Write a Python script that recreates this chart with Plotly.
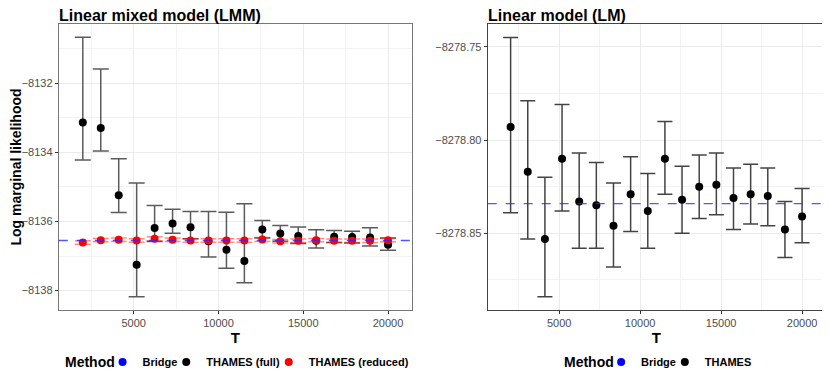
import plotly.graph_objects as go

# T values (shared by both panels)
T = [2000, 3059, 4118, 5176, 6235, 7294, 8353, 9412, 10471,
     11529, 12588, 13647, 14706, 15765, 16824, 17882, 18941, 20000]

# LMM panel
lmm_bridge = -8136.55
lmm_full = [-8133.14, -8133.30, -8135.24, -8137.25, -8136.19, -8136.06, -8136.17, -8136.57, -8136.82,
            -8137.14, -8136.23, -8136.35, -8136.42, -8136.56, -8136.44, -8136.45, -8136.46, -8136.67]
lmm_full_hi = [-8130.67, -8131.59, -8134.19, -8134.89, -8135.54, -8135.65, -8135.71, -8135.71, -8135.73,
               -8135.49, -8135.97, -8136.12, -8136.16, -8136.24, -8136.26, -8136.28, -8136.18, -8136.48]
lmm_full_lo = [-8134.22, -8133.96, -8135.74, -8138.18, -8136.58, -8136.34, -8136.50, -8137.03, -8137.35,
               -8137.77, -8136.48, -8136.57, -8136.64, -8136.77, -8136.61, -8136.62, -8136.71, -8136.83]
lmm_red = [-8136.61, -8136.54, -8136.53, -8136.55, -8136.50, -8136.53, -8136.55, -8136.55, -8136.55,
           -8136.55, -8136.52, -8136.57, -8136.56, -8136.54, -8136.56, -8136.56, -8136.56, -8136.54]
lmm_red_hi = [-8136.56, -8136.49, -8136.48, -8136.50, -8136.44, -8136.48, -8136.50, -8136.50, -8136.50,
              -8136.50, -8136.46, -8136.52, -8136.51, -8136.49, -8136.51, -8136.51, -8136.51, -8136.49]
lmm_red_lo = [-8136.66, -8136.59, -8136.58, -8136.60, -8136.56, -8136.58, -8136.60, -8136.60, -8136.60,
              -8136.60, -8136.58, -8136.62, -8136.61, -8136.59, -8136.61, -8136.61, -8136.61, -8136.59]

# LM panel
lm_bridge = -8278.8341
lm_thames = [-8278.793, -8278.817, -8278.853, -8278.810, -8278.833, -8278.835, -8278.846, -8278.829, -8278.838,
             -8278.810, -8278.832, -8278.825, -8278.824, -8278.831, -8278.829, -8278.830, -8278.848, -8278.841]
lm_hi = [-8278.745, -8278.779, -8278.820, -8278.781, -8278.807, -8278.812, -8278.823, -8278.809, -8278.818,
         -8278.790, -8278.814, -8278.808, -8278.807, -8278.815, -8278.813, -8278.815, -8278.833, -8278.826]
lm_lo = [-8278.839, -8278.853, -8278.884, -8278.838, -8278.858, -8278.858, -8278.868, -8278.849, -8278.858,
         -8278.829, -8278.850, -8278.842, -8278.840, -8278.848, -8278.845, -8278.846, -8278.863, -8278.855]

FONT = 'Liberation Sans, Arial, sans-serif'
# page has an 8px body margin, so the figure is shifted by 8
OFF = 8
W, H = 830 - OFF, 379 - OFF


def px(x):
    return (x - OFF) / W


def py(y):
    return 1 - (y - OFF) / H


def err(y, hi, lo, color, width):
    return dict(type='data', symmetric=False,
                array=[h - v for h, v in zip(hi, y)],
                arrayminus=[v - l for v, l in zip(y, lo)],
                color=color, thickness=1.5, width=width)


fig = go.Figure()

fig.add_trace(go.Scatter(
    x=T, y=lmm_full, mode='markers', showlegend=False,
    marker=dict(color='black', size=8),
    error_y=err(lmm_full, lmm_full_hi, lmm_full_lo, 'rgba(50,50,50,0.8)', 8),
    xaxis='x', yaxis='y'))
fig.add_trace(go.Scatter(
    x=T, y=lmm_red, mode='markers', showlegend=False,
    marker=dict(color='red', size=8),
    error_y=err(lmm_red, lmm_red_hi, lmm_red_lo, 'rgba(255,0,0,0.45)', 8),
    xaxis='x', yaxis='y'))
fig.add_trace(go.Scatter(
    x=T, y=lm_thames, mode='markers', showlegend=False,
    marker=dict(color='black', size=8),
    error_y=err(lm_thames, lm_hi, lm_lo, 'rgba(20,20,20,0.8)', 7.5),
    xaxis='x2', yaxis='y2'))

# Bridge reference lines
for xr, yr, val in [('x domain', 'y', lmm_bridge), ('x2 domain', 'y2', lm_bridge)]:
    fig.add_shape(type='line', xref=xr, yref=yr, x0=0, x1=1, y0=val, y1=val, layer='above',
                  line=dict(color='rgba(40,40,255,0.8)', dash='dash', width=1.3))

# legend entries: one legend per entry so each can sit where ggplot put it
legend_items = [('Bridge', 'blue', 'legend', 123), ('THAMES (full)', 'black', 'legend2', 187),
                ('THAMES (reduced)', 'red', 'legend3', 290),
                ('Bridge', 'blue', 'legend4', 624), ('THAMES', 'black', 'legend5', 688)]
legends = {}
for name, col, lg, cx in legend_items:
    fig.add_trace(go.Scatter(x=[None], y=[None], mode='markers', name=name,
                             marker=dict(color=col, size=8),
                             legend=lg, xaxis='x', yaxis='y'))
    legends[lg] = dict(orientation='h', x=px(cx - 24), xanchor='left', y=py(362), yanchor='middle',
                       font=dict(family=FONT, size=11, color='black', weight='bold'),
                       itemwidth=30, bgcolor='rgba(0,0,0,0)')

tickfont = dict(family=FONT, size=11, color='#4d4d4d')
axis_common = dict(showgrid=True, gridcolor='#ebebeb', gridwidth=1, zeroline=False,
                   ticks='outside', ticklen=3, tickcolor='#333', tickfont=tickfont,
                   mirror=True, showline=True, linewidth=1)

fig.update_layout(
    width=W, height=H, margin=dict(l=0, r=0, t=0, b=0),
    plot_bgcolor='white', paper_bgcolor='white',
    font=dict(family=FONT),
    xaxis=dict(domain=[px(55), px(410)], range=[583, 21417], dtick=5000, tick0=0,
               tickformat='d', linecolor='#777', anchor='y',
               minor=dict(dtick=2500, tick0=0, showgrid=True, gridcolor='#f3f3f3', ticks=''),
               title=dict(text='<b>T</b>', font=dict(size=15, color='black'), standoff=4),
               **axis_common),
    yaxis=dict(domain=[py(310), py(24)], range=[-8138.56, -8130.29], dtick=2,
               tickformat='d', linecolor='#777', anchor='x',
               minor=dict(dtick=1, showgrid=True, gridcolor='#f3f3f3', ticks=''),
               title=dict(text='<b>Log marginal likelihood</b>', font=dict(size=14, color='black'),
                          standoff=4),
               **axis_common),
    xaxis2=dict(domain=[px(486), px(825)], range=[583, 21417], dtick=5000, tick0=0,
                tickformat='d', linecolor='#444', anchor='y2',
                minor=dict(dtick=2500, tick0=0, showgrid=True, gridcolor='#f3f3f3', ticks=''),
                title=dict(text='<b>T</b>', font=dict(size=15, color='black'), standoff=4),
                **axis_common),
    yaxis2=dict(domain=[py(310), py(24)], range=[-8278.8911, -8278.7378], dtick=0.05,
                tick0=-8278.75, tickformat='.2f', linecolor='#444', anchor='x2',
                minor=dict(dtick=0.025, tick0=-8278.75, showgrid=True, gridcolor='#f3f3f3', ticks=''),
                **axis_common),
    annotations=[
        dict(text='<b>Linear mixed model (LMM)</b>', xref='paper', yref='paper',
             x=px(54), y=1, xanchor='left', yanchor='top', showarrow=False, borderpad=0,
             yshift=2, font=dict(size=16, color='black')),
        dict(text='<b>Linear model (LM)</b>', xref='paper', yref='paper',
             x=px(485), y=1, xanchor='left', yanchor='top', showarrow=False, borderpad=0,
             yshift=2, font=dict(size=16, color='black')),
        dict(text='<b>Method</b>', xref='paper', yref='paper',
             x=px(59), y=py(362), xanchor='left', yanchor='middle', showarrow=False,
             font=dict(size=14, color='black')),
        dict(text='<b>Method</b>', xref='paper', yref='paper',
             x=px(561), y=py(362), xanchor='left', yanchor='middle', showarrow=False,
             font=dict(size=14, color='black')),
    ],
    **legends,
)

fig.write_html("out.html")
